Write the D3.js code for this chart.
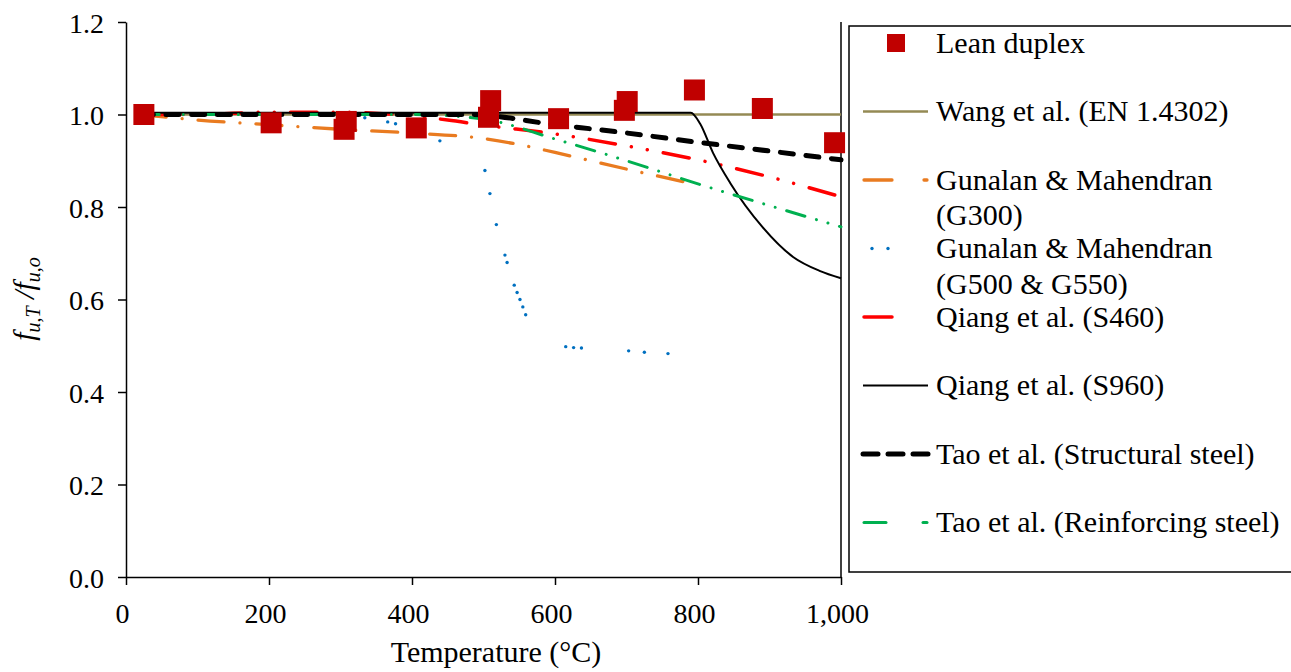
<!DOCTYPE html>
<html lang="en">
<head>
  <meta charset="UTF-8" />
  <title>Ultimate strength reduction factors</title>
  <script src="https://d3js.org/d3.v7.min.js"></script>
  <style>
    body {
      margin: 0;
      background: #fff;
      overflow: hidden;
    }
    text {
      font-family: "Liberation Serif", "Times New Roman", serif;
      fill: #000;
    }
  </style>
</head>
<body>
  <script>
    // Data: [temperature (°C), f_u,T / f_u,o]
    const leanDuplex = [
      [25, 1.0], [203, 0.982], [308, 0.985], [305, 0.968], [406, 0.971],
      [510, 1.03], [507, 0.994], [605, 0.991], [701, 1.028], [697, 1.009],
      [795, 1.053], [890, 1.013], [991, 0.939]
    ];
    const wang = [[20, 1.0], [1000, 1.0]];
    const gunalanG300 = [
      [20, 1.0], [100, 0.988], [200, 0.978], [300, 0.968], [400, 0.96],
      [500, 0.948], [550, 0.935], [600, 0.918], [700, 0.882], [800, 0.848]
    ];
    // the dotted G500 & G550 curve, dot by dot
    const gunalanG500 = [
      [334, 0.993], [366, 0.984], [377, 0.98], [439, 0.943], [502, 0.879],
      [509, 0.829], [518, 0.762], [530, 0.696], [533, 0.68], [543, 0.631],
      [547, 0.615], [551, 0.6], [555, 0.584], [559, 0.567], [615, 0.498],
      [626, 0.496], [637, 0.495], [703, 0.489], [725, 0.486], [758, 0.483]
    ];
    const qiangS460 = [
      [20, 1.0], [100, 1.0], [200, 1.005], [300, 1.005], [400, 0.997],
      [450, 0.988], [500, 0.977], [600, 0.958], [700, 0.932], [800, 0.902],
      [900, 0.865], [1000, 0.822]
    ];
    const qiangS960 = [
      [20, 1.004], [790, 1.004], [803, 0.98], [821, 0.917], [845, 0.852],
      [890, 0.757], [933, 0.692], [970, 0.662], [1000, 0.646]
    ];
    const taoStructural = [
      [20, 1.0], [480, 1.0], [600, 0.978], [700, 0.96], [800, 0.94],
      [900, 0.921], [1000, 0.902]
    ];
    const taoReinforcing = [
      [20, 1.0], [400, 1.0], [500, 0.99], [600, 0.947], [700, 0.9],
      [800, 0.85], [900, 0.803], [1000, 0.757]
    ];

    const xTicks = [0, 200, 400, 600, 800, 1000];
    const yTicks = [0, 0.2, 0.4, 0.6, 0.8, 1.0, 1.2];

    const legendNames = [
      ["Lean duplex"],
      ["Wang et al. (EN 1.4302)"],
      ["Gunalan & Mahendran", "(G300)"],
      ["Gunalan & Mahendran", "(G500 & G550)"],
      ["Qiang et al. (S460)"],
      ["Qiang et al. (S960)"],
      ["Tao et al. (Structural steel)"],
      ["Tao et al. (Reinforcing steel)"]
    ];

    const width = 1291, height = 672;
    const svg = d3.select("body").append("svg")
      .attr("width", width)
      .attr("height", height);

    // Plot area
    const x = d3.scaleLinear().domain([0, 1000]).range([126, 841]);
    const y = d3.scaleLinear().domain([0, 1.2]).range([577, 22]);

    const line = d3.line()
      .x(d => x(d[0]))
      .y(d => y(d[1]));

    // Axes (ticks outward)
    const xAxis = svg.append("g")
      .attr("transform", `translate(0,${y(0)})`)
      .call(d3.axisBottom(x).tickValues(xTicks).tickSize(8).tickSizeOuter(0).tickFormat(d3.format(",")));
    xAxis.select(".domain").attr("stroke-width", 1.5);
    xAxis.selectAll(".tick line").attr("stroke-width", 1.5);
    xAxis.selectAll(".tick text")
      .attr("font-size", 28)
      .attr("font-family", "Liberation Serif")
      .attr("fill", "#000")
      .attr("dy", null)
      .attr("y", 46)
      .attr("x", -4);

    const yAxis = svg.append("g")
      .attr("transform", `translate(${x(0)},0)`)
      .call(d3.axisLeft(y).tickValues(yTicks).tickSize(8).tickSizeOuter(0).tickFormat(d3.format(".1f")));
    yAxis.select(".domain").attr("stroke-width", 1.5);
    yAxis.selectAll(".tick line").attr("stroke-width", 1.5);
    yAxis.selectAll(".tick text")
      .attr("font-size", 28)
      .attr("font-family", "Liberation Serif")
      .attr("fill", "#000")
      .attr("dy", null)
      .attr("y", 10)
      .attr("x", -22);

    // right frame line
    svg.append("line")
      .attr("x1", x(1000)).attr("x2", x(1000))
      .attr("y1", y(1.2)).attr("y2", y(0))
      .attr("stroke", "#000")
      .attr("stroke-width", 1.5);

    // Axis titles
    svg.append("text")
      .attr("x", 496)
      .attr("y", 662)
      .attr("text-anchor", "middle")
      .attr("font-size", 30)
      .text("Temperature (°C)");

    const yTitle = svg.append("text")
      .attr("transform", "translate(34,299) rotate(-90)")
      .attr("text-anchor", "middle")
      .attr("font-size", 30)
      .attr("font-style", "italic");
    yTitle.append("tspan").text("f");
    yTitle.append("tspan").attr("font-size", 20).attr("dy", 6).text("u,T");
    yTitle.append("tspan").attr("dy", -6).text(" /");
    yTitle.append("tspan").text("f");
    yTitle.append("tspan").attr("font-size", 20).attr("dy", 6).text("u,o");

    // Series styles
    const styles = {
      wang: { color: "#948A54", width: 2.5, dash: null },
      g300: { color: "#E97B20", width: 3.3, dash: "26 16 0.01 16" },
      g500: { color: "#0070C0" },
      s460: { color: "#FF0000", width: 3.5, dash: "26.5 16.2 0.01 16.2 0.01 16.2" },
      s960: { color: "#000000", width: 2, dash: null },
      tao1: { color: "#000000", width: 5, dash: "13 12.7" },
      tao2: { color: "#00B050", width: 3, dash: "19 12 0.01 12 0.01 12" },
      lean: { color: "#C00000" }
    };

    const plot = svg.append("g");

    function drawLine(data, st, curve) {
      plot.append("path")
        .datum(data)
        .attr("fill", "none")
        .attr("stroke", st.color)
        .attr("stroke-width", st.width)
        .attr("stroke-linecap", st.dash ? "round" : "butt")
        .attr("stroke-dasharray", st.dash)
        .attr("d", curve ? line.curve(curve)(data) : line.curve(d3.curveLinear)(data));
    }

    drawLine(wang, styles.wang);
    drawLine(gunalanG300, styles.g300, d3.curveMonotoneX);

    plot.selectAll(".g500")
      .data(gunalanG500)
      .enter()
      .append("circle")
      .attr("class", "g500")
      .attr("cx", d => x(d[0]))
      .attr("cy", d => y(d[1]))
      .attr("r", 1.7)
      .attr("fill", styles.g500.color);

    drawLine(qiangS460, styles.s460, d3.curveMonotoneX);
    drawLine(qiangS960, styles.s960, d3.curveMonotoneX);
    drawLine(taoReinforcing, styles.tao2, d3.curveMonotoneX);
    drawLine(taoStructural, styles.tao1, d3.curveMonotoneX);

    // Lean duplex test results
    plot.selectAll(".lean")
      .data(leanDuplex)
      .enter()
      .append("rect")
      .attr("class", "lean")
      .attr("x", d => x(d[0]) - 10.5)
      .attr("y", d => y(d[1]) - 10.5)
      .attr("width", 21)
      .attr("height", 21)
      .attr("fill", styles.lean.color);

    // Legend
    const lg = svg.append("g");
    lg.append("rect")
      .attr("x", 849)
      .attr("y", 26)
      .attr("width", 460)
      .attr("height", 546)
      .attr("fill", "none")
      .attr("stroke", "#000")
      .attr("stroke-width", 1.5);

    const rowY = i => 43 + i * 68.5;
    // sample segments, drawn as [x1, x2] pieces of the legend key
    const samples = [
      null,
      { st: styles.wang, segs: [[863, 928]] },
      { st: styles.g300, segs: [[864, 892], [924, 927]] },
      null,
      { st: styles.s460, segs: [[864, 892]] },
      { st: styles.s960, segs: [[863, 928]] },
      { st: styles.tao1, segs: [[863, 878], [888, 903], [913, 928]] },
      { st: styles.tao2, segs: [[864, 886], [923, 927]] }
    ];

    legendNames.forEach((names, i) => {
      const cy = rowY(i);
      if (i === 0) {
        lg.append("rect")
          .attr("x", 887).attr("y", cy - 9)
          .attr("width", 18).attr("height", 18)
          .attr("fill", styles.lean.color);
      } else if (i === 3) {
        [872, 888].forEach(cx => {
          lg.append("circle")
            .attr("cx", cx).attr("cy", cy)
            .attr("r", 1.7)
            .attr("fill", styles.g500.color);
        });
      } else {
        const s = samples[i];
        s.segs.forEach(seg => {
          lg.append("line")
            .attr("x1", seg[0]).attr("x2", seg[1])
            .attr("y1", cy).attr("y2", cy)
            .attr("stroke", s.st.color)
            .attr("stroke-width", s.st.width)
            .attr("stroke-linecap", s.st.dash ? "round" : "butt");
        });
      }
      names.forEach((t, k) => {
        lg.append("text")
          .attr("x", 936)
          .attr("y", cy + 9.5 + k * 35.5)
          .attr("font-size", 30)
          .text(t);
      });
    });
  </script>
</body>
</html>
